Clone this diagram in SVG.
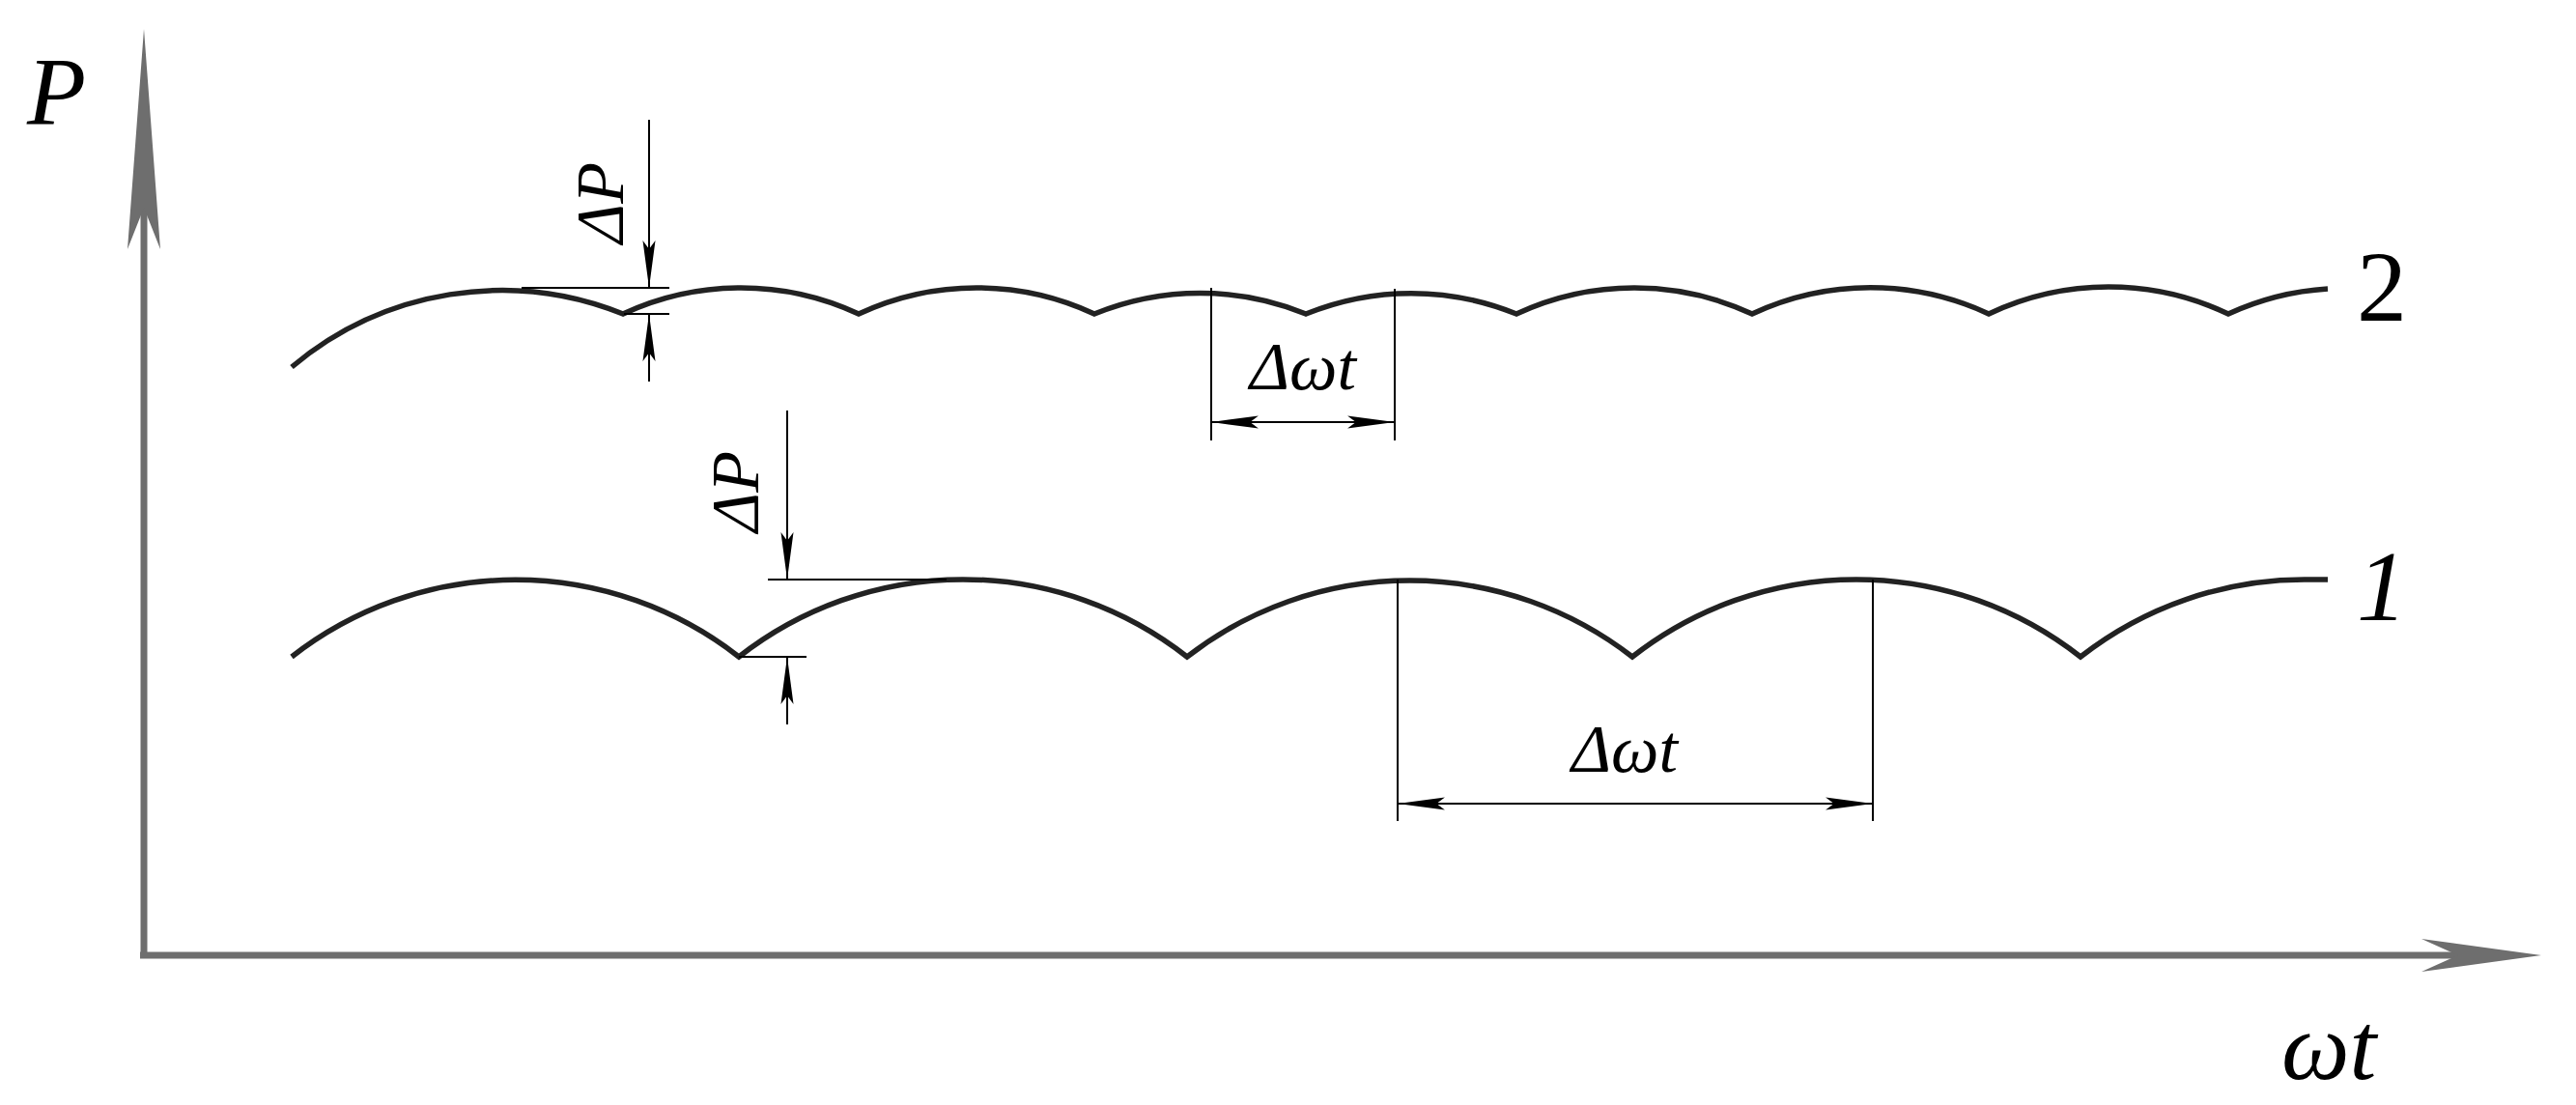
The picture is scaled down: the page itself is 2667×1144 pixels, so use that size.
<svg xmlns="http://www.w3.org/2000/svg" width="2667" height="1144" viewBox="0 0 2667 1144">
<style>
.curve{fill:none;stroke:#222;stroke-width:5.5}
.thin{fill:none;stroke:#000;stroke-width:2}
.lbl{font-family:"Liberation Serif","DejaVu Serif",serif;font-style:italic;fill:#000}
.up{font-style:normal}
</style>
<defs>
<marker id="ah" markerUnits="userSpaceOnUse" markerWidth="50" markerHeight="16" refX="45" refY="6" orient="auto-start-reverse" viewBox="0 0 46 12">
<path d="M0,0 L45,6 L0,12 L8,6 z" fill="#000"/>
</marker>
</defs>
<rect width="2667" height="1144" fill="#fff"/>
<g id="axes">
<line x1="149" y1="989" x2="149" y2="100" stroke="#6e6e6e" stroke-width="7"/>
<polygon points="149,30 166,258 149,215 132,258" fill="#6e6e6e"/>
<line x1="145" y1="989" x2="2560" y2="989" stroke="#6e6e6e" stroke-width="7"/>
<polygon points="2631,989 2507,972 2545,989 2507,1006" fill="#6e6e6e"/>
<text class="lbl" x="28" y="128" font-size="100">P</text>
<text class="lbl" x="2362" y="1117" font-size="100">ωt</text>
</g>
<g id="curve2">
<path class="curve" d="M302,380 A337,337 0 0 1 645,325 A289,289 0 0 1 889,325 A289,289 0 0 1 1133,325 A289,289 0 0 1 1352,325 A289,289 0 0 1 1570,325 A289,289 0 0 1 1814,325 A289,289 0 0 1 2059,325 A289,289 0 0 1 2307,325 A289,289 0 0 1 2410,299"/>
<text class="lbl up" x="2440" y="332" font-size="104">2</text>
</g>
<g id="curve1">
<path class="curve" d="M302,680 A376,376 0 0 1 765,680 A376,376 0 0 1 1229,680 A376,376 0 0 1 1690,680 A376,376 0 0 1 2154,680 A376,376 0 0 1 2386,600 L2410,600"/>
<text class="lbl" x="2440" y="642" font-size="104">1</text>
</g>
<g id="connectors">
<line class="thin" x1="540" y1="298" x2="693" y2="298"/>
<line class="thin" x1="646" y1="325" x2="693" y2="325"/>
<line class="thin" x1="672" y1="124" x2="672" y2="298" marker-end="url(#ah)"/>
<line class="thin" x1="672" y1="395" x2="672" y2="325" marker-end="url(#ah)"/>
<text class="lbl" font-size="70" text-anchor="middle" transform="translate(645,210) rotate(-90)">ΔP</text>
<line class="thin" x1="795" y1="600" x2="980" y2="600"/>
<line class="thin" x1="765" y1="680" x2="835" y2="680"/>
<line class="thin" x1="815" y1="425" x2="815" y2="600" marker-end="url(#ah)"/>
<line class="thin" x1="815" y1="750" x2="815" y2="680" marker-end="url(#ah)"/>
<text class="lbl" font-size="70" text-anchor="middle" transform="translate(785,509) rotate(-90)">ΔP</text>
<line class="thin" x1="1254" y1="298" x2="1254" y2="456"/>
<line class="thin" x1="1444" y1="299" x2="1444" y2="456"/>
<line class="thin" x1="1254" y1="437" x2="1444" y2="437" marker-start="url(#ah)" marker-end="url(#ah)"/>
<text class="lbl" x="1349" y="403" font-size="70" text-anchor="middle">Δωt</text>
<line class="thin" x1="1447" y1="600" x2="1447" y2="850"/>
<line class="thin" x1="1939" y1="600" x2="1939" y2="850"/>
<line class="thin" x1="1447" y1="832" x2="1939" y2="832" marker-start="url(#ah)" marker-end="url(#ah)"/>
<text class="lbl" x="1682" y="799" font-size="70" text-anchor="middle">Δωt</text>
</g>
</svg>
